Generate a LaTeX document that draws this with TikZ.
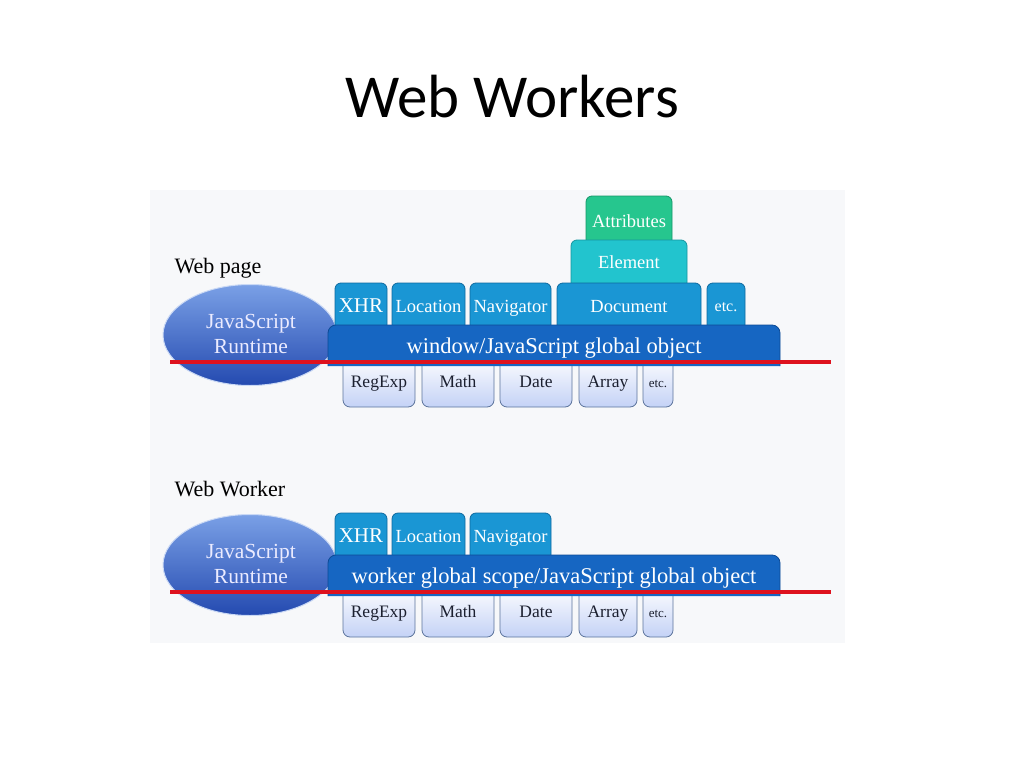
\documentclass[tikz,border=0pt]{standalone}
\usepackage{fontspec}
\setmainfont{Liberation Serif}
\newfontfamily\titlefont{Carlito}
\usetikzlibrary{shapes.geometric}

\definecolor{panel}{RGB}{247,248,250}
\definecolor{barblue}{RGB}{22,102,194}
\definecolor{baredge}{RGB}{12,74,150}
\definecolor{tabblue}{RGB}{26,150,212}
\definecolor{tabedge}{RGB}{14,106,160}
\definecolor{elemcyan}{RGB}{34,196,206}
\definecolor{elemedge}{RGB}{20,150,160}
\definecolor{attrgreen}{RGB}{38,198,142}
\definecolor{attredge}{RGB}{22,150,104}
\definecolor{lowblue}{RGB}{196,210,246}
\definecolor{lowedge}{RGB}{92,116,156}
\definecolor{lowtext}{RGB}{28,32,48}
\definecolor{rtlight}{RGB}{122,160,230}
\definecolor{rtdark}{RGB}{36,74,176}
\definecolor{redline}{RGB}{222,18,30}

\newcommand\pxfont[2][1.1]{\fontsize{#2}{#1\dimexpr#2pt\relax}\selectfont}
\newcommand\globpage{window/JavaScript global object}
\newcommand\globworker{worker global scope/JavaScript global object}

\tikzset{
  tab/.style={draw=tabedge, fill=tabblue, rounded corners=6pt, line width=0.8pt},
  tabtext/.style={text=white, inner sep=0pt, anchor=base},
  lowbox/.style={draw=lowedge, top color=white, bottom color=lowblue, rounded corners=7pt, line width=0.8pt},
  lowtext/.style={text=lowtext, inner sep=0pt, anchor=base},
  bar/.style={draw=baredge, fill=barblue, rounded corners=8pt, line width=0.8pt},
  runtime/.style={ellipse, draw=white!60!rtlight, line width=1pt, top color=rtlight, bottom color=rtdark,
    minimum width=174pt, minimum height=101pt},
  runtimetext/.style={align=center, text=white!92!blue, font=\pxfont[1.12]{21.5}, anchor=base, inner sep=0pt},
  redrule/.style={draw=redline, line width=3.5pt},
}

\begin{document}
\begin{tikzpicture}[x=1pt,y=-1pt]
\useasboundingbox (0,0) rectangle (1024,768);
\fill[panel] (150,190) rectangle (845,643);

\node[font=\titlefont\pxfont{61}] (title) at (512,97) {Web Workers};

% labels of the two parts
\node[anchor=base west, font=\pxfont{22}] (pagelabel) at (171,273) {Web page};
\node[anchor=base west, font=\pxfont{22}] (workerlabel) at (171,496) {Web Worker};

% DOM stack, only in the web page
\draw[tab, draw=attredge, fill=attrgreen] (586,246) -- (586,196) -- (672,196) -- (672,246);
\node[tabtext, font=\pxfont{18.5}] (attributes) at (629,227) {Attributes};
\draw[tab, draw=elemedge, fill=elemcyan] (571,289) -- (571,240) -- (687,240) -- (687,289);
\node[tabtext, font=\pxfont{18.5}] (element) at (629,268) {Element};
\draw[tab] (557,331) -- (557,283) -- (701,283) -- (701,331);
\node[tabtext, font=\pxfont{18.5}] (document) at (629,312) {Document};
\draw[tab] (707,331) -- (707,283) -- (745,283) -- (745,331);
\node[tabtext, font=\pxfont{16}] (pageetc) at (726,311) {etc.};

\foreach \s/\dy in {page/0,worker/230}{
  \begin{scope}[shift={(0,\dy)}]
    \node[runtime] (\s-runtime) at (250,335) {};
    \node[runtimetext] (\s-runtimetext) at (251,353) {JavaScript\\Runtime};
    \foreach \n/\xa/\xb/\f/\t in {xhr/335/387/21/XHR, location/392/465/18.5/Location, navigator/470/551/18.5/Navigator}{
      \draw[tab] (\xa,331) -- (\xa,283) -- (\xb,283) -- (\xb,331);
      \node[tabtext, font=\pxfont{\f}] (\s-\n) at ({(\xa+\xb)/2},312) {\t};
    }
    \foreach \n/\xa/\xb/\f/\t in {regexp/343/415/17.5/RegExp, math/422/494/17.5/Math, date/500/572/17.5/Date, array/579/637/17.5/Array, etc/643/673/13/etc.}{
      \draw[lowbox] (\xa,355) -- (\xa,407) -- (\xb,407) -- (\xb,355);
      \node[lowtext, font=\pxfont{\f}] (\s-\n) at ({(\xa+\xb)/2},387) {\t};
    }
    \draw[bar] (328,366) -- (328,325) -- (780,325) -- (780,366);
    \node[tabtext, font=\pxfont{22.5}] (\s-global) at (554,353) {\csname glob\s\endcsname};
    \draw[redrule] (170,362) -- (831,362);
  \end{scope}
}
\end{tikzpicture}
\end{document}
